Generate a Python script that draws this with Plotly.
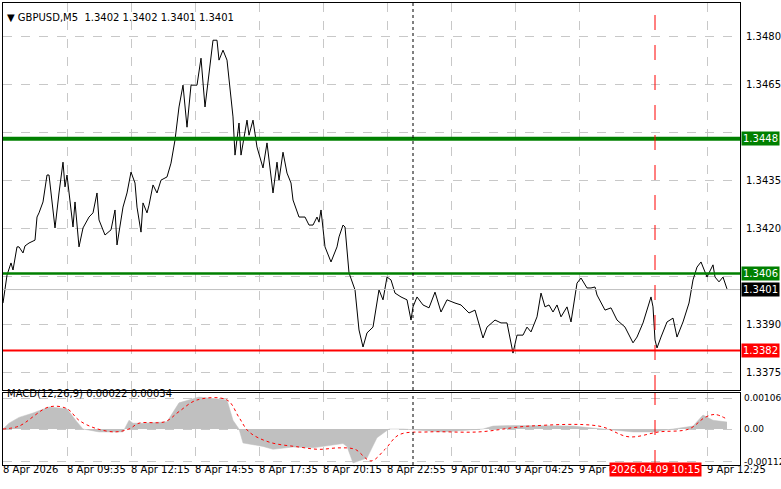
import plotly.graph_objects as go

W, H = 781, 489
# price series (bar index, close)
bars = [0,1,2,4,5,7,8,10,11,13,16,17,18,20,22,23,26,28,30,31,32,35,36,38,40,43,45,47,48,51,54,56,57,60,62,64,66,67,69,70,72,73,75,77,79,82,84,86,88,90,92,94,97,99,101,105,107,108,110,112,115,116,118,119,122,123,125,127,130,132,135,137,138,140,142,144,145,148,151,153,155,157,158,159,161,164,167,168,170,171,173,176,178,180,182,185,188,190,192,194,196,199,202,204,205,207,210,213,216,219,222,226,229,233,236,240,242,246,249,252,255,257,260,262,264,267,269,271,273,275,277,279,282,284,287,289,292,294,296,297,301,304,307,311,315,317,320,324,325,326,327,329,332,335,337,340,343,345,347,349,352,355,356,358,360,362]
close = [1.33968,1.34009,1.34055,1.34093,1.34071,1.34143,1.34143,1.34124,1.34146,1.34155,1.34164,1.34236,1.34249,1.34283,1.34367,1.34367,1.34202,1.34311,1.34407,1.34330,1.34367,1.34205,1.34283,1.34143,1.34202,1.34236,1.34249,1.34311,1.34227,1.34180,1.34196,1.34258,1.34149,1.34267,1.34311,1.34376,1.34342,1.34267,1.34189,1.34280,1.34249,1.34273,1.34336,1.34311,1.34351,1.34361,1.34404,1.34476,1.34579,1.34647,1.34516,1.34647,1.34647,1.34731,1.34579,1.34787,1.34787,1.34725,1.34756,1.34725,1.34548,1.34429,1.34529,1.34429,1.34538,1.34491,1.34538,1.34454,1.34389,1.34467,1.34311,1.34407,1.34351,1.34438,1.34373,1.34342,1.34289,1.34236,1.34236,1.34211,1.34211,1.34236,1.34220,1.34258,1.34143,1.34096,1.34143,1.34174,1.34211,1.34205,1.34062,1.34009,1.33884,1.33831,1.33875,1.33893,1.34009,1.33978,1.34049,1.34040,1.33999,1.33987,1.33978,1.33915,1.33956,1.33987,1.33962,1.33953,1.34002,1.33940,1.33978,1.33968,1.33962,1.33937,1.33946,1.33859,1.33893,1.33915,1.33906,1.33906,1.33812,1.33868,1.33868,1.33893,1.33878,1.33925,1.33999,1.33956,1.33962,1.33940,1.33962,1.33925,1.33956,1.33909,1.34030,1.34046,1.34015,1.34015,1.34018,1.33993,1.33946,1.33953,1.33915,1.33893,1.33844,1.33862,1.33906,1.33987,1.33956,1.33853,1.33828,1.33862,1.33909,1.33921,1.33862,1.33909,1.33968,1.34040,1.34080,1.34096,1.34049,1.34087,1.34049,1.34034,1.34049,1.34012]

macd_bars = [0,3,8,15,23,32,37,40,48,60,63,65,70,82,88,98,112,115,118,120,130,135,145,155,170,172,175,182,187,193,200,220,240,245,255,270,285,300,315,325,335,345,350,355,362]
macd_hist = [0.0,0.0002,0.0004,0.00055,0.00076,0.0007,0.00024,0.0,-0.0001,-0.0001,0.0003,0.0002,0.0002,0.00025,0.0009,0.0011,0.001,0.0003,0.0,-0.00048,-0.0006,-0.0007,-0.00062,-0.00065,-0.0005,-0.0006,-0.00117,-0.001,-0.0003,0.0,0.0,-0.0001,0.0,0.0001,0.00012,0.0001,0.0001,0.0,-0.0001,-0.0001,0.0,0.0001,0.00048,0.0003,0.00024]
sig_bars = [0,8,23,32,38,46,56,63,68,81,88,97,112,118,123,133,148,158,168,176,184,191,198,213,238,263,298,313,328,343,351,356,362]
signal = [0.0,0.0001,0.00076,0.0007,0.0003,0.00003,-0.0001,0.0,0.0002,0.00025,0.0006,0.001,0.001,0.0004,-0.0001,-0.00045,-0.00062,-0.0007,-0.00065,-0.0007,-0.0011,-0.0007,-0.0002,-0.0001,-0.0001,0.0001,0.0001,-0.00027,-0.0001,0.0,0.0004,0.0005,0.00034]

tick_bars = [0,32,64,96,128,160,192,224,256,288,352]
tick_text = ["8 Apr 2026","8 Apr 09:35","8 Apr 12:15","8 Apr 14:55","8 Apr 17:35","8 Apr 20:15","8 Apr 22:55","9 Apr 01:40","9 Apr 04:25","9 Apr 07:05","9 Apr 12:25"]
price_ticks = [1.3375,1.3390,1.3405,1.3420,1.3435,1.3450,1.3465,1.3480]
levels = {"1.3448": (1.3448, "#008000", 4), "1.3406": (1.3406, "#008000", 2.5), "1.3382": (1.3382, "#ff0000", 2)}
last_price = 1.3401
vline_black = 205
vline_red = 326
red_label = "2026.04.09 10:15"

FONT = "DejaVu Sans"
fig = go.Figure()
fig.add_trace(go.Scatter(x=bars, y=close, mode="lines", line=dict(color="black", width=1), xaxis="x", yaxis="y"))
fig.add_trace(go.Scatter(x=macd_bars, y=macd_hist, mode="lines", line=dict(color="#c0c0c0", width=0.5), fill="tozeroy", fillcolor="#c0c0c0", xaxis="x2", yaxis="y2"))
fig.add_trace(go.Scatter(x=sig_bars, y=signal, mode="lines", line=dict(color="red", width=1, dash="dot", shape="spline"), xaxis="x2", yaxis="y2"))

xr = [0, 368.5]
x0, x1 = 3/W, 740/W
grid = dict(showgrid=True, gridcolor="#c8c8c8", griddash="dash", gridwidth=1)
fig.update_layout(
    width=W, height=H, margin=dict(l=0, r=0, t=0, b=0), showlegend=False,
    plot_bgcolor="white", paper_bgcolor="white", font=dict(family=FONT, size=10, color="black"),
    xaxis=dict(domain=[x0, x1], range=xr, tickvals=tick_bars, showticklabels=False, showline=True, mirror=True, linecolor="black", zeroline=False, **grid, anchor="y"),
    yaxis=dict(domain=[1-390/H, 1-3/H], range=[1.33697, 1.34903], tickvals=price_ticks, showticklabels=False, showline=True, mirror=True, linecolor="black", zeroline=False, **grid),
    xaxis2=dict(domain=[x0, x1], range=xr, tickvals=tick_bars, showticklabels=False, showline=True, mirror=True, linecolor="black", zeroline=False, **grid, anchor="y2"),
    yaxis2=dict(domain=[1-465/H, 1-393/H], range=[-0.00124, 0.00124], tickvals=[-0.00112, 0, 0.00106], showticklabels=False, showline=True, mirror=True, linecolor="black", zeroline=False, **grid, anchor="x2"),
)
shapes = []
for name, (v, c, w) in levels.items():
    shapes.append(dict(type="line", xref="x", yref="y", x0=xr[0], x1=xr[1], y0=v, y1=v, line=dict(color=c, width=w)))
shapes.append(dict(type="line", xref="x", yref="y", x0=xr[0], x1=xr[1], y0=last_price, y1=last_price, line=dict(color="#c0c0c0", width=1)))
for ax in [("x", "y"), ("x2", "y2")]:
    shapes.append(dict(type="line", xref=ax[0], yref=ax[1] + " domain", x0=vline_black, x1=vline_black, y0=0, y1=1, line=dict(color="black", width=1, dash="dot")))
    shapes.append(dict(type="line", xref=ax[0], yref=ax[1] + " domain", x0=vline_red, x1=vline_red, y0=0, y1=1, line=dict(color="red", width=1, dash="longdash")))
fig.update_layout(shapes=shapes)

ann = []
for v in price_ticks:
    if v in (1.3405, 1.3450):
        continue
    ann.append(dict(xref="paper", yref="y", x=744/W, y=v, text=f"{v:.4f}", showarrow=False, xanchor="left", font=dict(size=10)))
for name, (v, c, w) in levels.items():
    ann.append(dict(xref="paper", yref="y", x=741/W, y=v, text=name, showarrow=False, xanchor="left", bgcolor=c, font=dict(size=10, color="white"), borderpad=1))
ann.append(dict(xref="paper", yref="y", x=741/W, y=last_price, text=f"{last_price:.4f}", showarrow=False, xanchor="left", bgcolor="black", font=dict(size=10, color="white"), borderpad=1))
for v, t in [(0.00106, "0.00106"), (0, "0.00"), (-0.00112, "-0.00112")]:
    ann.append(dict(xref="paper", yref="y2", x=742/W, y=v, text=t, showarrow=False, xanchor="left", font=dict(size=9)))
for b, t in zip(tick_bars, tick_text):
    ann.append(dict(xref="x", yref="paper", x=b, y=1-477/H, text=t, showarrow=False, xanchor="left", xshift=-2, font=dict(size=10)))
ann.append(dict(xref="x", yref="paper", x=vline_red, y=1-477/H, text=red_label, showarrow=False, xanchor="center", bgcolor="red", font=dict(size=10, color="white"), borderpad=1))
ann.append(dict(xref="paper", yref="paper", x=5/W, y=1-10/H, text="▼ GBPUSD,M5  1.3402 1.3402 1.3401 1.3401", showarrow=False, xanchor="left", font=dict(size=10)))
ann.append(dict(xref="paper", yref="paper", x=5/W, y=1-401/H, text="MACD(12,26,9) 0.00022 0.00034", showarrow=False, xanchor="left", font=dict(size=10)))
fig.update_layout(annotations=ann)
fig.write_html("out.html", config={"displayModeBar": False})

with open("out.html", encoding="utf-8") as f:
    html = f.read()
html = html.replace("<head>", "<head><style>html,body{margin:0;padding:0;overflow:hidden}</style>", 1)
with open("out.html", "w", encoding="utf-8") as f:
    f.write(html)
